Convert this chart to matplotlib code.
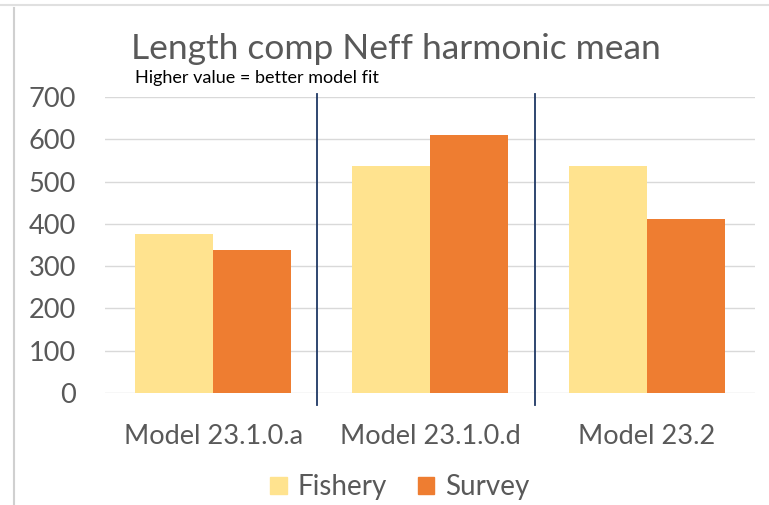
import numpy as np
import matplotlib.pyplot as plt
from matplotlib.lines import Line2D
from matplotlib.patches import Patch

# data
models = ["Model 23.1.0.a", "Model 23.1.0.d", "Model 23.2"]
fishery = [375, 537, 537]
survey = [338, 610, 411]
yticks = [0, 100, 200, 300, 400, 500, 600, 700]

fishery_color = "#FFE38F"
survey_color = "#EE7D31"
text_color = "#595959"

plt.rcParams['font.family'] = ['Lato', 'DejaVu Sans']

fig = plt.figure(figsize=(7.69, 5.05), dpi=100)
ax = fig.add_axes([0.1365, 0.2218, 0.8455, 0.5862])

x = np.arange(len(models))
w = 0.36
ax.bar(x - w / 2, fishery, w, color=fishery_color, zorder=2)
ax.bar(x + w / 2, survey, w, color=survey_color, zorder=2)

ax.set_xlim(-0.5, len(models) - 0.5)
ax.set_ylim(0, 700)
ax.set_yticks(yticks)
ax.set_xticks(x)
ax.set_xticklabels(models)
ax.tick_params(axis='both', length=0, labelsize=19.5, labelcolor=text_color)
ax.tick_params(axis='x', pad=22)
ax.tick_params(axis='y', pad=21)
ax.grid(axis='y', color="#D9D9D9", linewidth=1, zorder=0)
for s in ax.spines.values():
    s.set_visible(False)

# separators between models
for xs in [0.48, 1.485]:
    ax.add_line(Line2D([xs, xs], [-28, 707], color="#1F3864", linewidth=1.3,
                       clip_on=False, zorder=3))

fig.text(0.171, 0.903, "Length comp Neff harmonic mean", fontsize=25.5,
         color=text_color, va='center', ha='left')
fig.text(0.176, 0.846, "Higher value = better model fit", fontsize=13,
         color="black", va='center', ha='left')

# frame edges of the original chart box
fig.add_artist(Line2D([0.018, 0.018], [0.0, 0.985], color="#D0D0D0", linewidth=1.5))
fig.add_artist(Line2D([0.0, 1.0], [0.99, 0.99], color="#E0E0E0", linewidth=1.5))

handles = [Patch(color=fishery_color, label="Fishery"),
           Patch(color=survey_color, label="Survey")]
fig.legend(handles=handles, loc='center', bbox_to_anchor=(0.52, 0.035), ncol=2,
           frameon=False, fontsize=20, labelcolor=text_color, handlelength=0.6,
           handleheight=0.6, handletextpad=0.4, columnspacing=1.1)

fig.savefig("out.png", dpi=100)
